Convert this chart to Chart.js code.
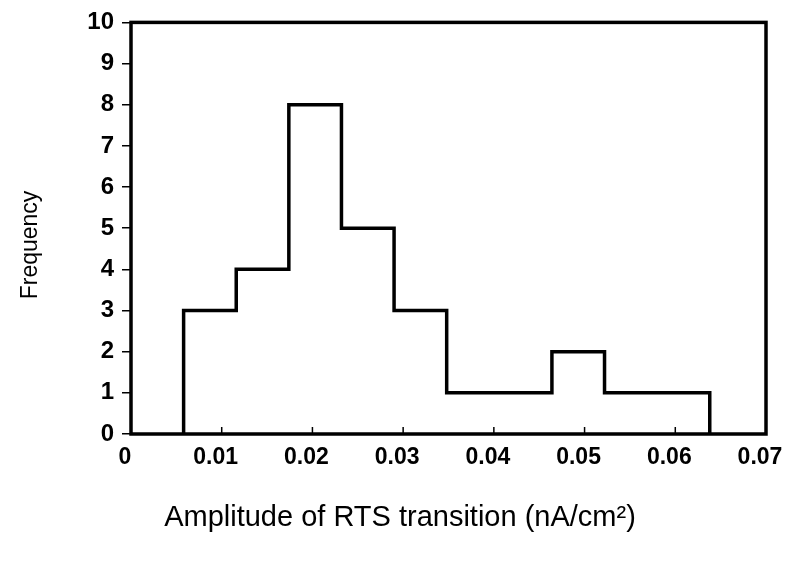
<!DOCTYPE html>
<html>
<head>
<meta charset="utf-8">
<script src="https://cdn.jsdelivr.net/npm/chart.js@4/dist/chart.umd.min.js"></script>
<style>
  html, body { margin: 0; padding: 0; background: #fff; }
  #wrap { width: 795px; height: 568px; }
</style>
</head>
<body>
<div id="wrap"><canvas id="c" width="795" height="568"></canvas></div>
<script>
// Histogram bin edges (nA/cm^2) and event counts per bin
const binEdges = [0.0058, 0.0116, 0.0174, 0.0232, 0.0290, 0.0348, 0.0406, 0.0464, 0.0522, 0.0580, 0.0638];
const binCounts = [3, 4, 8, 5, 3, 1, 1, 2, 1, 1];

// Axis ticks
const xTickValues = [0, 0.01, 0.02, 0.03, 0.04, 0.05, 0.06, 0.07];
const xTickLabels = ['0', '0.01', '0.02', '0.03', '0.04', '0.05', '0.06', '0.07'];
const yTickValues = [0, 1, 2, 3, 4, 5, 6, 7, 8, 9, 10];

// Axis titles
const xTitle = 'Amplitude of RTS transition (nA/cm\u00B2)';
const yTitle = 'Frequency';

// Step outline: rise at the first edge, one point per bin, drop at the last edge
const outline = [{ x: binEdges[0], y: 0 }];
binCounts.forEach((c, i) => outline.push({ x: binEdges[i], y: c }));
outline.push({ x: binEdges[binEdges.length - 1], y: binCounts[binCounts.length - 1] });
outline.push({ x: binEdges[binEdges.length - 1], y: 0 });

const FONT = '"Liberation Sans", Arial, sans-serif';

// Frame around the plot area, inward x ticks and the two axis titles
const framePlugin = {
  id: 'frame',
  afterDraw(chart) {
    const { ctx, chartArea: a, scales } = chart;
    ctx.save();
    ctx.strokeStyle = '#000';
    ctx.lineWidth = 1.5;
    xTickValues.forEach(v => {
      const px = scales.x.getPixelForValue(v);
      ctx.beginPath();
      ctx.moveTo(px, a.bottom);
      ctx.lineTo(px, a.bottom - 7);
      ctx.stroke();
    });
    ctx.lineWidth = 3.5;
    ctx.strokeRect(a.left, a.top, a.right - a.left, a.bottom - a.top);

    ctx.fillStyle = '#000';
    ctx.textAlign = 'center';
    ctx.textBaseline = 'middle';
    ctx.font = '29px ' + FONT;
    ctx.fillText(xTitle, 400, 518);

    ctx.translate(31, 245);
    ctx.rotate(-Math.PI / 2);
    ctx.font = '23px ' + FONT;
    ctx.fillText(yTitle, 0, 0);
    ctx.restore();
  }
};

new Chart(document.getElementById('c'), {
  type: 'line',
  data: {
    datasets: [{
      data: outline,
      stepped: 'before',
      borderColor: '#000',
      borderWidth: 3.5,
      pointRadius: 0,
      fill: false
    }]
  },
  options: {
    responsive: false,
    animation: false,
    layout: { padding: { top: 19, right: 29, bottom: 0, left: 0 } },
    plugins: { legend: { display: false }, tooltip: { enabled: false } },
    scales: {
      x: {
        type: 'linear',
        min: 0,
        max: 0.07,
        afterBuildTicks(scale) { scale.ticks = xTickValues.map(v => ({ value: v })); },
        afterFit(scale) {
          scale.height = 134;
          scale.paddingLeft = 0;
          scale.paddingRight = 0;
        },
        grid: { display: false, drawTicks: false },
        border: { display: false },
        ticks: {
          color: '#000',
          font: { family: FONT, size: 23, weight: 'bold' },
          padding: 10,
          labelOffset: -6,
          maxRotation: 0,
          autoSkip: false,
          callback: (v, i) => xTickLabels[i]
        }
      },
      y: {
        min: 0,
        max: 10,
        afterBuildTicks(scale) { scale.ticks = yTickValues.map(v => ({ value: v })); },
        afterFit(scale) { scale.width = 131; },
        grid: { drawOnChartArea: false, drawTicks: true, tickLength: 9, color: '#000', lineWidth: 1.5 },
        border: { display: false },
        ticks: {
          color: '#000',
          font: { family: FONT, size: 24, weight: 'bold' },
          padding: 8
        }
      }
    }
  },
  plugins: [framePlugin]
});
</script>
</body>
</html>
